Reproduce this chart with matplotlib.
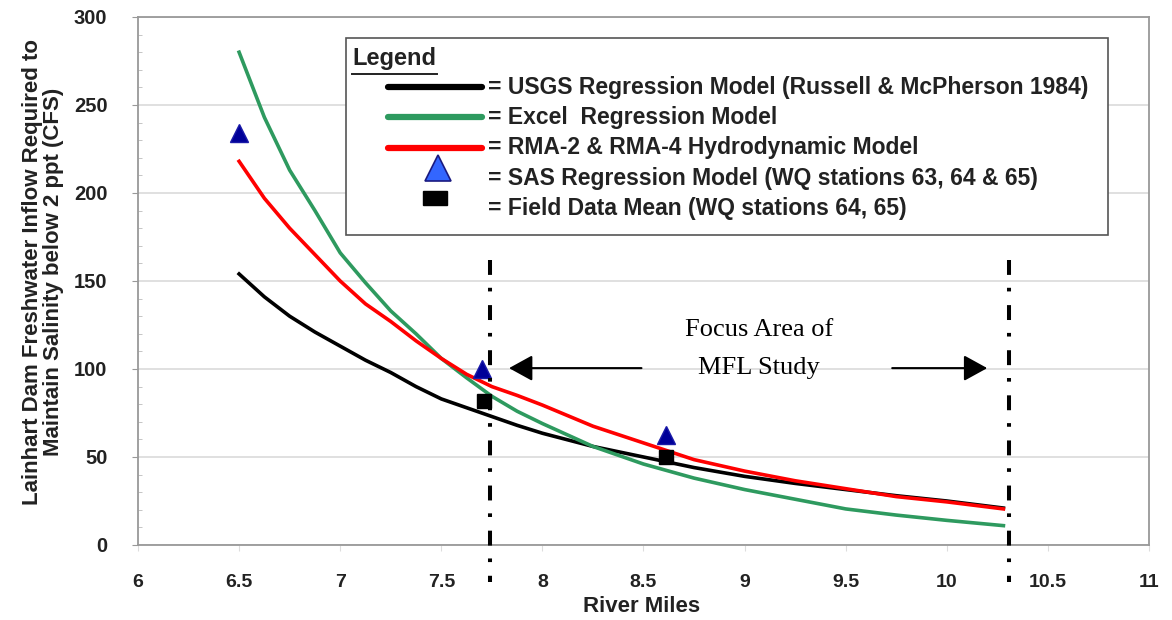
import matplotlib

matplotlib.use("Agg")

import matplotlib.pyplot as plt
from matplotlib.patches import Rectangle
from matplotlib.ticker import MultipleLocator

plt.rcParams["font.family"] = ["Liberation Sans", "DejaVu Sans"]

# curves
river_mile = [6.5, 6.625, 6.75, 6.875, 7.0, 7.125, 7.25, 7.375, 7.5, 7.625,
              7.75, 7.875, 8.0, 8.25, 8.5, 8.75, 9.0, 9.25, 9.5, 9.75, 10.0,
              10.28]
usgs = [154, 141, 130, 121, 113, 105, 98, 90, 83, 78,
        73, 68, 63.5, 56, 50, 44, 39, 35, 31.5, 28, 25, 21]
excel = [280, 243, 213, 190, 166, 149, 133, 120, 106, 95,
         84.5, 76, 69, 56, 46, 38, 31.5, 26, 20.5, 17, 14, 11]
rma = [218, 197, 180, 165, 150, 137, 127, 116, 106, 97,
       90, 85, 79.5, 67.5, 58, 48.5, 42, 36.5, 32, 27.5, 24.5, 20.5]

sas_x = [6.5, 7.7, 8.61]
sas_y = [234, 100, 62.5]
field_x = [7.71, 8.61]
field_y = [82, 50]

focus_bounds = [7.74, 10.31]
focus_top, focus_bottom = 162, -21

fig = plt.figure(figsize=(11.72, 6.2), dpi=100)
ax = fig.add_axes([138 / 1172, 1 - 545 / 620, 1011 / 1172, 528 / 620])

ax.set_xlim(6, 11)
ax.set_ylim(0, 300)
ax.yaxis.set_major_locator(MultipleLocator(50))
ax.yaxis.set_minor_locator(MultipleLocator(10))
ax.set_xticks([6, 6.5, 7, 7.5, 8, 8.5, 9, 9.5, 10, 10.5, 11])
ax.set_xticklabels(["6", "6.5", "7", "7.5", "8", "8.5", "9", "9.5", "10", "10.5", "11"])

ax.grid(axis="y", which="major", color="#dddddd", lw=1.3)
ax.set_axisbelow(True)
for s in ax.spines.values():
    s.set_color("#999999")
    s.set_linewidth(1.3)

ax.tick_params(axis="y", which="major", length=4, color="#999999", pad=18,
               labelsize=14.5)
ax.tick_params(axis="y", which="minor", length=3, direction="in", color="#bbbbbb")
ax.tick_params(axis="x", which="major", length=4, color="#dddddd", pad=17,
               labelsize=14)
for lab in ax.get_xticklabels() + ax.get_yticklabels():
    lab.set_fontweight("bold")
    lab.set_color("#222222")

ax.plot(river_mile, usgs, color="black", lw=2.6, zorder=3)
ax.plot(river_mile, excel, color="#2e9a5f", lw=2.6, zorder=3)
ax.plot(river_mile, rma, color="#ff0000", lw=2.6, zorder=3)

ax.plot(sas_x, sas_y, linestyle="none", marker="^", ms=13, color="#000099",
        mec="#1a1aa8", zorder=4)
ax.plot(field_x, field_y, linestyle="none", marker="s", ms=10, color="black",
        zorder=4)

# focus area boundaries
for xb in focus_bounds:
    ax.plot([xb, xb], [focus_top, focus_bottom], color="black", lw=2.9,
            linestyle=(0, (3.7, 3.2, 0.9, 3.4)), clip_on=False, zorder=5)

arrow = dict(arrowstyle="-|>,head_length=1.0,head_width=0.55",
             color="black", lw=1.5, mutation_scale=14.5, shrinkA=0, shrinkB=0)
ax.annotate("", xy=(7.835, 100.5), xytext=(8.49, 100.5), arrowprops=arrow)
ax.annotate("", xy=(10.20, 100.5), xytext=(9.73, 100.5), arrowprops=arrow)
ax.text(9.07, 122, "Focus Area of", ha="center", va="center", fontsize=19,
        family="Liberation Serif")
ax.text(9.07, 100.5, "MFL Study", ha="center", va="center", fontsize=19,
        family="Liberation Serif")

# legend box
ta = ax.transAxes
ax.add_patch(Rectangle((0.2057, 0.587), 0.7537, 0.3732, transform=ta,
                       facecolor="white", edgecolor="#555555", lw=1.2, zorder=6))
ax.text(0.2117, 0.922, "Legend", transform=ta, fontsize=17, fontweight="bold",
        va="center", ha="left", color="#222222", zorder=7)
ax.plot([0.2117, 0.2957], [0.892, 0.892], transform=ta, color="#222222", lw=1.4,
        zorder=7)

fs = 16.5
rows = [
    ("black", 0.8674, "= USGS Regression Model (Russell & McPherson 1984)"),
    ("#2e9a5f", 0.8106, "= Excel  Regression Model"),
    ("#ff0000", 0.7519, "= RMA-2 & RMA-4 Hydrodynamic Model"),
]
for col, yy, label in rows:
    ax.plot([0.2473, 0.3403], [yy, yy], transform=ta, color=col, lw=4.5,
            solid_capstyle="round", zorder=7)
    ax.text(0.3462, yy, label, transform=ta, fontsize=fs, fontweight="bold",
            va="center", ha="left", color="#222222", zorder=7)

ax.plot([0.2967], [0.714], transform=ta, marker="^", ms=19, color="#3366ff",
        mec="#1a1a80", mew=1.2, zorder=7)
ax.text(0.3462, 0.695, "= SAS Regression Model (WQ stations 63, 64 & 65)",
        transform=ta, fontsize=fs, fontweight="bold", va="center", ha="left",
        color="#222222", zorder=7)
ax.add_patch(Rectangle((0.2819, 0.644), 0.0237, 0.0265, transform=ta,
                       facecolor="black", edgecolor="black", zorder=7))
ax.text(0.3462, 0.638, "= Field Data Mean (WQ stations 64, 65)", transform=ta,
        fontsize=fs, fontweight="bold", va="center", ha="left", color="#222222",
        zorder=7)

fig.text(642 / 1172, 1 - 606 / 620, "River Miles", ha="center", va="center",
         fontsize=16, fontweight="bold", color="#222222")
fig.text(43 / 1172, 1 - 272 / 620,
         "Lainhart Dam Freshwater Inflow Required to\n"
         "Maintain Salinity below 2 ppt (CFS)",
         ha="center", va="center", rotation=90, fontsize=16, fontweight="bold",
         color="#222222", linespacing=1.05)

fig.savefig("out.png", dpi=100)
